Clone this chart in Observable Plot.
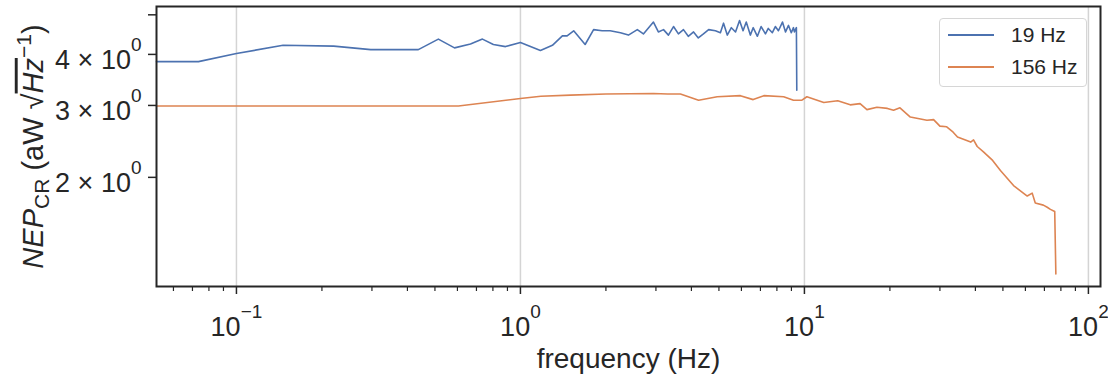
<!DOCTYPE html>
<html>
<head>
<meta charset="utf-8">
<script src="https://cdn.jsdelivr.net/npm/d3@7"></script>
<script src="https://cdn.jsdelivr.net/npm/@observablehq/plot@0.6"></script>
<style>
  html, body { margin: 0; padding: 0; background: #fff; }
  #wrap { position: relative; width: 1108px; height: 376px; font-family: "Liberation Sans", Arial, sans-serif; color: #262626; }
  #legend { position: absolute; left: 939px; top: 18px; width: 148px; height: 69px; border: 1px solid #d6d6d6; border-radius: 4px; background: rgba(255,255,255,0.85); box-sizing: border-box; }
  .lg-line { position: absolute; left: 8px; width: 46px; height: 0; border-top: 2px solid; }
  .lg-text { position: absolute; left: 71px; font-size: 21px; line-height: 24px; white-space: nowrap; color: #262626; }
</style>
</head>
<body>
<div id="wrap"></div>
<script>
// ---- data ----
const series = ["19 Hz", "156 Hz"];
const seriesColors = ["#4c72b0", "#dd8452"];

const freq19 = [0.0523, 0.0735, 0.1, 0.146, 0.22, 0.297, 0.437, 0.514, 0.586, 0.667, 0.735, 0.803, 0.886, 1.0,
  1.176, 1.296, 1.405, 1.46, 1.54, 1.69, 1.81, 1.94, 2.07, 2.25, 2.40, 2.58, 2.71, 2.94, 3.06, 3.19, 3.32, 3.46,
  3.60, 3.75, 3.90, 4.07, 4.23, 4.41, 4.6, 4.86, 5.06, 5.19, 5.35, 5.53, 5.72, 5.91, 6.08, 6.24, 6.45, 6.6, 6.83,
  7.04, 7.29, 7.46, 7.71, 7.9, 8.1, 8.37, 8.58, 8.79, 8.99, 9.15, 9.22, 9.37, 9.4];
const nep19 = [3.84, 3.84, 4.02, 4.21, 4.19, 4.11, 4.11, 4.36, 4.15, 4.24, 4.36, 4.23, 4.18, 4.28,
  4.09, 4.21, 4.44, 4.44, 4.57, 4.23, 4.6, 4.57, 4.57, 4.52, 4.46, 4.6, 4.49, 4.8, 4.54, 4.6, 4.46, 4.68,
  4.49, 4.6, 4.43, 4.54, 4.39, 4.49, 4.6, 4.57, 4.52, 4.77, 4.46, 4.65, 4.54, 4.84, 4.57, 4.8, 4.46, 4.65, 4.43,
  4.68, 4.49, 4.63, 4.52, 4.68, 4.57, 4.8, 4.54, 4.71, 4.52, 4.65, 4.54, 4.65, 3.27];

const freq156 = [0.0523, 0.605, 1.0, 1.18, 1.5, 2.0, 2.94, 3.3, 3.66, 4.24, 4.93, 5.95, 6.6, 7.2, 8.45, 9.15, 9.8,
  10.2, 11.7, 13.1, 14.5, 15.7, 16.6, 18.0, 19.6, 20.6, 21.7, 23.6, 27.0, 28.5, 30.0, 31.7, 33.4, 34.6, 38.5, 39.4,
  40.6, 42.7, 46.0, 49.0, 54.5, 60.9, 63.4, 65.0, 69.4, 71.6, 73.5, 76.1, 76.8];
const nep156 = [2.99, 2.99, 3.12, 3.16, 3.18, 3.2, 3.21, 3.2, 3.2, 3.09, 3.15, 3.17, 3.10, 3.17, 3.15, 3.09, 3.09,
  3.15, 3.05, 3.08, 3.01, 3.03, 2.93, 2.97, 2.95, 2.92, 2.96, 2.81, 2.76, 2.77, 2.67, 2.66, 2.58, 2.51, 2.44, 2.47,
  2.38, 2.31, 2.2, 2.08, 1.91, 1.80, 1.83, 1.73, 1.71, 1.69, 1.67, 1.65, 1.16];

const xMajor = [0.1, 1, 10, 100];
const xTickLabels = ["10^−1", "10^0", "10^1", "10^2"];
const xMinor = [0.06, 0.07, 0.08, 0.09, 0.2, 0.3, 0.4, 0.5, 0.6, 0.7, 0.8, 0.9,
  2, 3, 4, 5, 6, 7, 8, 9, 20, 30, 40, 50, 60, 70, 80, 90];
const yTicks = [2, 3, 4, 5];
const yTickLabels = ["2 × 10^0", "3 × 10^0", "4 × 10^0", ""];
const xLabel = "frequency (Hz)";
const yLabel = "NEP_CR (aW √Hz^−1)";

// ---- build ----
const rows19 = freq19.map((f, i) => ({f, v: nep19[i], s: series[0]}));
const rows156 = freq156.map((f, i) => ({f, v: nep156[i], s: series[1]}));
const ink = "#262626";

const chart = Plot.plot({
  width: 1108,
  height: 376,
  marginLeft: 156,
  marginRight: 8,
  marginTop: 6,
  marginBottom: 90,
  style: {fontFamily: '"Liberation Sans", Arial, sans-serif', color: ink, background: "white", overflow: "visible"},
  x: {type: "log", domain: [0.0523, 110.3], axis: null},
  y: {type: "log", domain: [1.081, 5.24], axis: null},
  marks: [
    Plot.ruleX(xMajor, {x: d => d, stroke: "#d4d4d4", strokeWidth: 1.5}),
    Plot.line(rows19, {x: "f", y: "v", stroke: seriesColors[0], strokeWidth: 1.6}),
    Plot.line(rows156, {x: "f", y: "v", stroke: seriesColors[1], strokeWidth: 1.6}),
    Plot.axisX({ticks: xMajor, tickSize: 8, tickFormat: () => "", label: null, stroke: ink, strokeWidth: 1.5}),
    Plot.axisX({ticks: xMinor, tickSize: 5, tickFormat: () => "", label: null, stroke: ink, strokeWidth: 1.2}),
    Plot.axisY({ticks: yTicks, tickSize: 8, tickFormat: () => "", label: null, stroke: ink, strokeWidth: 1.5}),
    Plot.text(xMajor, {x: d => d, frameAnchor: "bottom", lineAnchor: "bottom", textAnchor: "middle", dy: 49, text: (d, i) => xTickLabels[i], fontSize: 27, fill: ink}),
    Plot.text(yTicks, {y: d => d, frameAnchor: "left", textAnchor: "end", lineAnchor: "bottom", dx: -15, dy: 15, text: (d, i) => yTickLabels[i], fontSize: 27, fill: ink}),
    Plot.text([xLabel], {frameAnchor: "bottom", lineAnchor: "bottom", textAnchor: "middle", dy: 81, text: d => d, fontSize: 28, fill: ink}),
    Plot.text([yLabel], {frameAnchor: "left", lineAnchor: "middle", textAnchor: "middle", rotate: -90, dx: -123, text: d => d, fontSize: 29, fill: ink}),
    Plot.frame({stroke: ink, strokeWidth: 2})
  ]
});

// rich text (superscripts / subscripts)
const NS = "http://www.w3.org/2000/svg";
function ts(parent, txt, attrs) {
  const t = document.createElementNS(NS, "tspan");
  t.textContent = txt;
  for (const k in attrs) t.setAttribute(k, attrs[k]);
  parent.appendChild(t);
  return t;
}
chart.querySelectorAll("text").forEach(t => {
  const s = t.textContent;
  if (s === yLabel) {
    t.textContent = "";
    ts(t, "NEP", {"font-style": "italic"});
    ts(t, "CR", {"font-size": 21, dy: 6});
    ts(t, " (aW ", {dy: -6});
    ts(t, "√", {});
    ts(t, "Hz", {"font-style": "italic", "text-decoration": "overline"});
    ts(t, "−1", {"font-size": 21, dy: -12});
    ts(t, ")", {dy: 12});
  } else if (s.includes("^")) {
    const [base, sup] = s.split("^");
    t.textContent = "";
    ts(t, base, {});
    ts(t, sup, {"font-size": 19, dy: -18});
  }
});

const wrap = document.getElementById("wrap");
wrap.appendChild(chart);

// legend
const lg = document.createElement("div");
lg.id = "legend";
series.forEach((name, i) => {
  const ln = document.createElement("div");
  ln.className = "lg-line";
  ln.style.borderTopColor = seriesColors[i];
  ln.style.top = (15 + i * 32) + "px";
  const tx = document.createElement("div");
  tx.className = "lg-text";
  tx.style.top = (4 + i * 32) + "px";
  tx.textContent = name;
  lg.appendChild(ln);
  lg.appendChild(tx);
});
wrap.appendChild(lg);
</script>
</body>
</html>
